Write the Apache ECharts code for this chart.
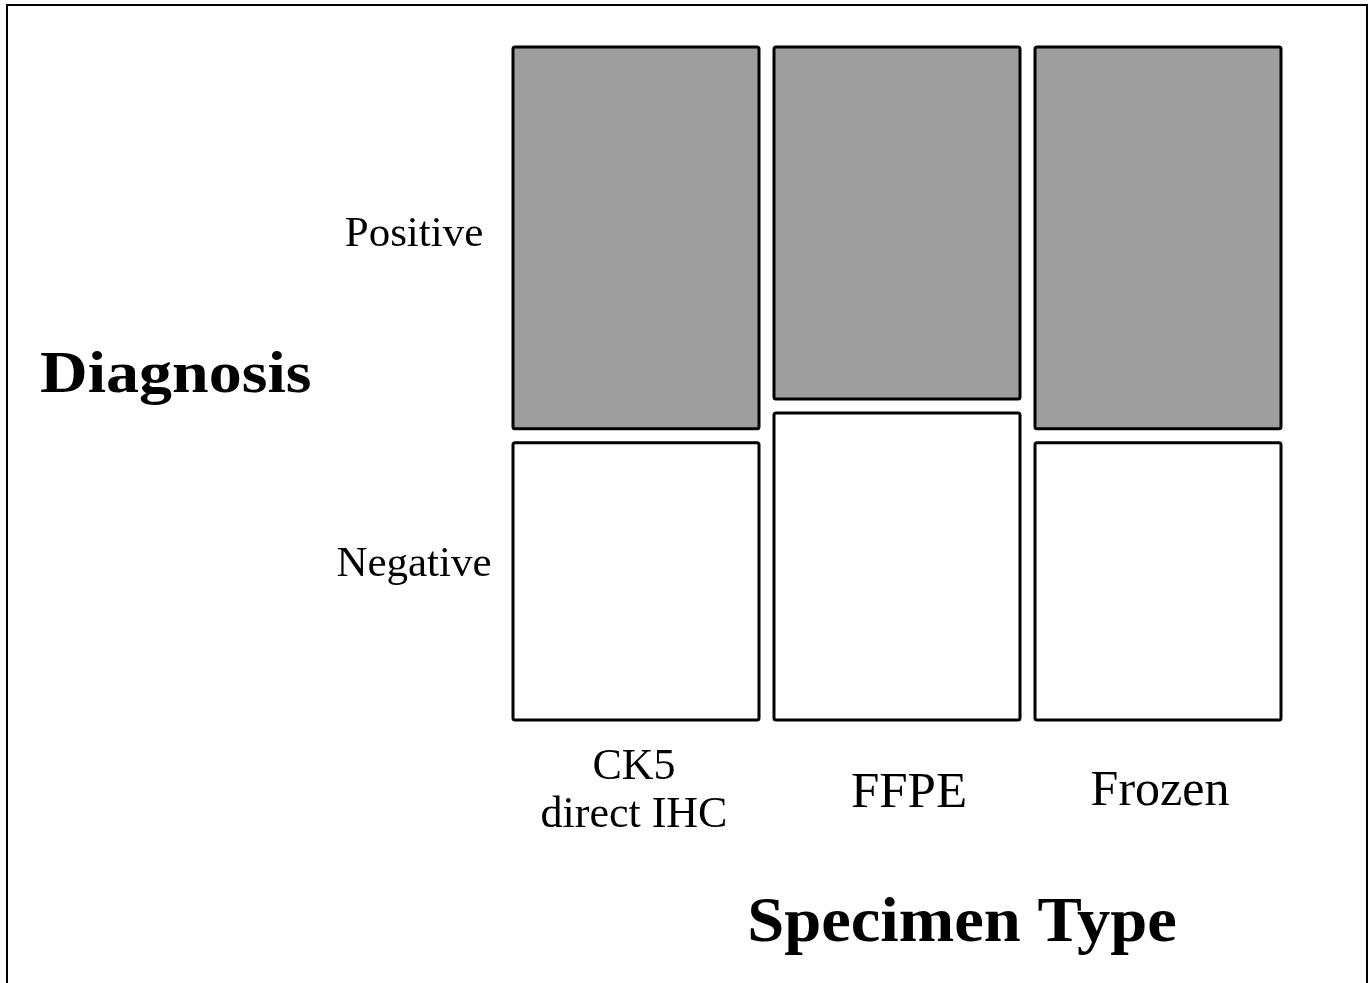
<!DOCTYPE html>
<html>
<head>
<meta charset="utf-8">
<script src="https://cdn.jsdelivr.net/npm/echarts@6/dist/echarts.min.js"></script>
<style>html,body{margin:0;padding:0;background:#fff}#chart{width:1370px;height:983px}</style>
</head>
<body>
<div id="chart"></div>
<script>
// Specimen types (columns) and diagnosis levels (rows)
const specimenTypes = ['CK5\ndirect IHC', 'FFPE', 'Frozen'];
const diagnosisLevels = ['Negative', 'Positive'];
// Counts per specimen type (read as proportions from the picture)
const positiveCounts = [26, 24, 26];
const negativeCounts = [19, 21, 19];

const SERIF = "'Liberation Serif','Times New Roman',serif";
const GAP_X = 15, GAP_Y = 14;

const totals = positiveCounts.map((p, i) => p + negativeCounts[i]);
const grand = totals.reduce((a, b) => a + b, 0);

const cells = [];
specimenTypes.forEach((s, i) => {
  cells.push([i, 0, negativeCounts[i]]);
  cells.push([i, 1, positiveCounts[i]]);
});

function renderItem(params, api) {
  const i = api.value(0), row = api.value(1);
  const cs = params.coordSys;
  const usableW = cs.width - GAP_X * (specimenTypes.length - 1);
  let x = cs.x;
  for (let k = 0; k < i; k++) x += usableW * totals[k] / grand + GAP_X;
  const w = usableW * totals[i] / grand;
  const q = negativeCounts[i] / totals[i];
  let lo, hi;
  if (row === 0) { lo = 0; hi = q; } else { lo = q; hi = 1; }
  let yBottom = api.coord([i, lo])[1];
  let yTop = api.coord([i, hi])[1];
  if (row === 0) yTop += GAP_Y / 2; else yBottom -= GAP_Y / 2;
  return {
    type: 'rect',
    shape: { x: x, y: yTop, width: w, height: yBottom - yTop, r: 2 },
    style: { fill: row === 1 ? '#9e9e9e' : '#ffffff', stroke: '#000', lineWidth: 3 }
  };
}

const chart = echarts.init(document.getElementById('chart'), null, { renderer: 'canvas' });
chart.setOption({
  backgroundColor: '#fff',
  animation: false,
  grid: [
    { left: 513, top: 47, width: 768, height: 673 },
    { left: 513, top: 70, width: 768, height: 660 }
  ],
  xAxis: [
    {
      type: 'category', gridIndex: 0, data: specimenTypes,
      axisLine: { show: false }, axisTick: { show: false },
      axisLabel: {
        margin: 71, verticalAlign: 'middle', interval: 0,
        formatter: function (v, idx) {
          if (idx === 0) return v.split('\n').map(t => '{a|' + t + '}').join('\n');
          if (idx === 1) return '{b|' + v + '}';
          return '{c|' + v + '}';
        },
        rich: {
          a: { fontFamily: SERIF, fontSize: 44, lineHeight: 48, color: '#000', padding: [0, 14, 0, 0] },
          b: { fontFamily: SERIF, fontSize: 51, lineHeight: 52, color: '#000', padding: [6, 0, 0, 24] },
          c: { fontFamily: SERIF, fontSize: 50, lineHeight: 52, color: '#000', padding: [2, 0, 0, 14] }
        }
      }
    },
    { type: 'value', gridIndex: 1, show: false }
  ],
  yAxis: [
    { type: 'value', gridIndex: 0, min: 0, max: 1, show: false },
    {
      type: 'category', gridIndex: 1, data: diagnosisLevels,
      axisLine: { show: false }, axisTick: { show: false }, splitLine: { show: false },
      axisLabel: { margin: 99, align: 'center', verticalAlign: 'middle', fontFamily: SERIF, fontSize: 43, color: '#000' }
    }
  ],
  series: [{
    type: 'custom', xAxisIndex: 0, yAxisIndex: 0,
    renderItem: renderItem, data: cells, silent: true
  }],
  graphic: [
    { type: 'rect', shape: { x: 7, y: 5, width: 1360, height: 1000 }, style: { fill: 'none', stroke: '#000', lineWidth: 2 }, silent: true, z: 100 },
    { type: 'text', x: 40, y: 376, scaleX: 1.1, style: { text: 'Diagnosis', font: 'bold 60px ' + SERIF, fill: '#000', verticalAlign: 'middle', align: 'left' } },
    { type: 'text', x: 962, y: 924, scaleX: 1.04, style: { text: 'Specimen Type', font: 'bold 64px ' + SERIF, fill: '#000', verticalAlign: 'middle', align: 'center' } }
  ]
});
</script>
</body>
</html>
